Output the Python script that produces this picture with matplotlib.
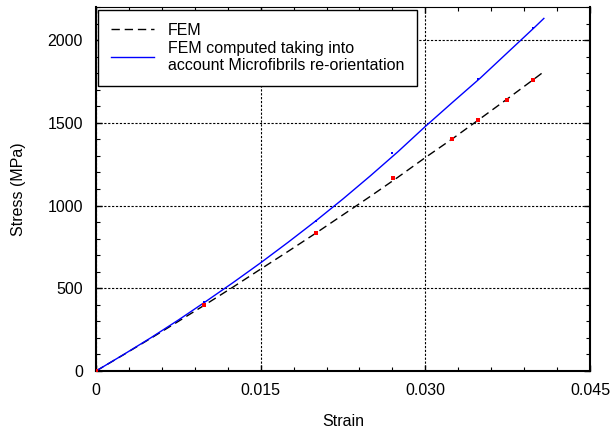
import matplotlib
matplotlib.use("Agg")
import matplotlib.pyplot as plt
from matplotlib.ticker import MultipleLocator, FixedLocator, FixedFormatter

plt.rcParams['font.family'] = ['Liberation Sans', 'DejaVu Sans']

# stress-strain curves (strain [-], stress [MPa])
fem_strain = [0, 0.0025, 0.005, 0.0075, 0.01, 0.0125, 0.015, 0.0175, 0.02, 0.0225,
              0.025, 0.0275, 0.03, 0.0325, 0.035, 0.0375, 0.04, 0.0408]
fem_stress = [0, 98, 198, 300, 403, 508, 616, 723, 832, 944,
              1056, 1171, 1290, 1405, 1525, 1646, 1769, 1809]

mfa_strain = [0, 0.0025, 0.005, 0.0075, 0.01, 0.0125, 0.015, 0.0175, 0.02, 0.0225,
              0.025, 0.0275, 0.03, 0.0325, 0.035, 0.0375, 0.04, 0.0408]
mfa_stress = [0, 99, 201, 308, 420, 535, 654, 778, 906, 1040,
              1180, 1325, 1478, 1625, 1770, 1925, 2080, 2131]

# computed points on each curve
fem_pts_strain = [0, 0.00984, 0.0200, 0.02708, 0.03245, 0.03483, 0.0374, 0.0398]
fem_pts_stress = [0, 398, 832, 1168, 1402, 1517, 1637, 1756]
mfa_pts_strain = [0.00984, 0.0200, 0.0270, 0.0348, 0.0398]
mfa_pts_stress = [415, 906, 1319, 1762, 2074]

xticks = [0, 0.015, 0.030, 0.045]
xtick_labels = ['0', '0.015', '0.030', '0.045']
yticks = [0, 500, 1000, 1500, 2000]

fig = plt.figure(figsize=(6.15, 4.37), dpi=100)
ax = fig.add_axes([0.1561, 0.151, 0.8032, 0.833])

ax.plot(fem_strain, fem_stress, color='black', lw=1.0, dashes=(6, 3.5), label='FEM', zorder=3)
ax.plot(mfa_strain, mfa_stress, color='blue', lw=1.0,
        label='FEM computed taking into\naccount Microfibrils re-orientation', zorder=3)
ax.plot(fem_pts_strain, fem_pts_stress, 's', color='red', ms=2.2, mew=0, zorder=4)
ax.plot(mfa_pts_strain, mfa_pts_stress, 's', color='blue', ms=1.8, mew=0, zorder=4)

ax.set_xlim(0, 0.045)
ax.set_ylim(0, 2200)
ax.xaxis.set_major_locator(FixedLocator(xticks))
ax.xaxis.set_major_formatter(FixedFormatter(xtick_labels))
ax.xaxis.set_minor_locator(MultipleLocator(0.003))
ax.yaxis.set_major_locator(FixedLocator(yticks))
ax.yaxis.set_minor_locator(MultipleLocator(100))

ax.tick_params(which='both', direction='in', top=True, right=True, labelsize=11.5, colors='black')
ax.tick_params(which='major', length=4, width=1)
ax.tick_params(which='minor', length=3, width=0.8)
ax.tick_params(axis='x', pad=8.5)
ax.tick_params(axis='y', pad=9.5)

ax.grid(True, which='major', color='black', linestyle=(0, (2, 1.5)), lw=0.8, zorder=1)
for side in ['left', 'bottom', 'right']:
    ax.spines[side].set_linewidth(1.5)
ax.spines['top'].set_linewidth(0.8)

ax.set_xlabel('Strain', fontsize=11.5, labelpad=12)
ax.set_ylabel('Stress (MPa)', fontsize=11.5, labelpad=15.5)

leg = ax.legend(loc='upper left', bbox_to_anchor=(0.004, 0.992), fontsize=11.5,
                fancybox=False, framealpha=1, edgecolor='black', borderaxespad=0,
                handlelength=2.7, handletextpad=0.88, borderpad=0.8, labelspacing=0.2)
leg.get_frame().set_linewidth(1.0)
leg.set_zorder(5)

fig.savefig('out.png', dpi=100)
